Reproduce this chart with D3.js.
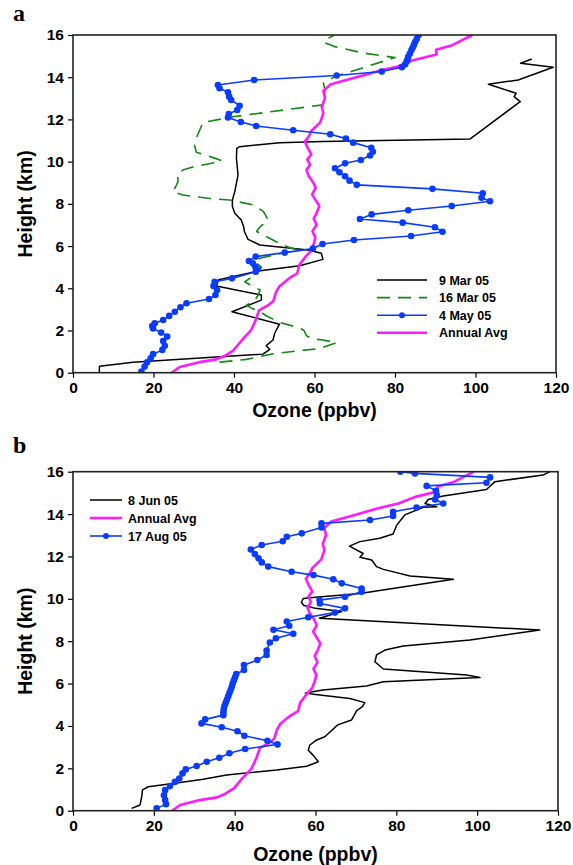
<!DOCTYPE html>
<html>
<head>
<meta charset="utf-8">
<script src="https://cdnjs.cloudflare.com/ajax/libs/d3/7.8.5/d3.min.js"></script>
<style>
    body { margin: 0; background: #fff; }
    text { font-family: 'Liberation Sans', Arial, sans-serif; font-weight: bold; fill: #000; }
    .tick text { font-size: 15.5px; }
    .axis-title { font-size: 19.5px; }
    .legend-text { font-size: 12.5px; }
    .panel-letter { font-family: 'Liberation Serif', 'Times New Roman', serif; font-size: 24px; }
</style>
</head>
<body>
<div id="chartContainer"></div>
<script>
// [ozone (ppbv), height (km)] pairs
const mar9Profile = [
    [6.5, 0], [6.6, 0.3], [14.9, 0.49], [47.2, 0.88], [48.9, 1.1], [48, 1.28], [49.7, 1.55], [50.1, 1.87],
    [51.3, 2.3], [39.5, 2.89], [46.8, 3.44], [46.8, 3.68], [35.6, 4.11], [36.2, 4.4], [46, 4.82], [56.3, 5.07],
    [62.1, 5.37], [61.7, 5.66], [58.4, 5.81], [46.4, 6.05], [43.5, 6.32], [42.6, 6.68], [42.4, 6.92], [41.8, 7.23],
    [40.2, 7.55], [39.6, 7.87], [39.6, 8.18], [40.2, 8.58], [41, 9.37], [40.6, 10.16], [40.7, 10.63], [41.4, 10.71],
    [51.3, 10.9], [62.1, 10.95], [98.6, 11.07], [111.1, 12.84], [109.6, 13.08], [110.1, 13.24], [103.2, 13.67],
    [110.6, 13.87], [119.3, 14.47], [111.2, 14.66], [114, 14.86]
];

const mar16Profile = [
    [36.4, 0.5], [43.1, 0.63], [49.8, 0.9], [61.4, 1.15], [65.5, 1.42], [62.1, 1.55], [59.6, 1.6], [58, 1.75],
    [57.4, 2.0], [56.4, 2.12], [51.3, 2.38], [48, 2.7], [46.4, 2.9], [44.4, 3.05], [43.1, 3.2], [45.2, 3.44],
    [46, 3.68], [46.5, 3.92], [44.5, 4.1], [42.7, 4.31], [44.5, 4.55], [46, 4.8], [46.8, 5.0], [45.1, 5.26],
    [46.4, 5.42], [51, 5.62], [56, 5.8], [53.5, 5.95], [51.3, 6.13], [48, 6.45], [45.6, 6.69], [46.5, 6.92],
    [48.5, 7.24], [47.3, 7.64], [44.8, 7.95], [38.9, 8.18], [34, 8.25], [27.3, 8.42], [24.8, 8.58], [25.5, 8.81],
    [26.1, 9.05], [26, 9.45], [27.5, 9.62], [30, 9.76], [34.4, 9.92], [36.9, 10.05], [34.8, 10.19], [30.6, 10.45],
    [30.2, 10.79], [30.6, 11.1], [31.5, 11.5], [32.3, 11.86], [36.9, 12.02], [39.8, 12.13], [62.1, 12.69],
    [62.2, 13.08], [62.6, 13.4], [62.2, 13.72], [65.1, 14.03], [80, 14.93], [72, 15.15], [65, 15.45],
    [62.3, 15.65], [63.5, 15.85], [65, 16]
];

const may4Profile = [
    [17, 0.05], [17.8, 0.29], [18.4, 0.49], [19.3, 0.68], [19.9, 0.88], [22.2, 1.08], [22.8, 1.28], [22.4, 1.5],
    [23.4, 1.71], [21.9, 1.9], [19.9, 2.1], [19.7, 2.21], [20.3, 2.34], [22.4, 2.5], [23.9, 2.69], [25.3, 2.89],
    [26.7, 3.1], [28.2, 3.29], [33.8, 3.49], [35.4, 3.68], [35.8, 3.92], [34.9, 4.11], [35.2, 4.31], [39.5, 4.47],
    [45.4, 4.78], [45.8, 4.9], [45.3, 5.02], [44.7, 5.18], [43.7, 5.29], [45.4, 5.5], [52.6, 5.69], [59.6, 5.88],
    [62, 6.1], [69.8, 6.29], [84, 6.48], [91.8, 6.68], [89.9, 6.89], [81.9, 7.11], [71.3, 7.28], [74.2, 7.5],
    [83.3, 7.7], [94.1, 7.9], [103.6, 8.12], [101.5, 8.29], [101.8, 8.5], [89.3, 8.71], [70.5, 8.9], [68.7, 9.1],
    [67.6, 9.31], [66.2, 9.5], [65.1, 9.69], [67.6, 9.92], [71.5, 10.08], [73.8, 10.29], [74.5, 10.47],
    [74.1, 10.66], [69.6, 10.9], [67.8, 11.09], [63.9, 11.3], [54.7, 11.49], [45.5, 11.69], [41.7, 11.88],
    [38.5, 12.09], [38.7, 12.26], [40.8, 12.45], [41.4, 12.65], [39.3, 12.92], [38.8, 13.08], [38.5, 13.29],
    [36.4, 13.48], [36, 13.63], [45, 13.87], [65.5, 14.08], [76.7, 14.27], [81.7, 14.47], [82.5, 14.6],
    [82.9, 14.74], [83.1, 14.85], [83.3, 14.97], [83.7, 15.12], [84.1, 15.29], [84.4, 15.41], [84.7, 15.53],
    [85, 15.67], [85.4, 15.81], [85.9, 16]
];

const annualAvgProfile = [
    [24.5, 0], [26.5, 0.27], [31.4, 0.5], [35.6, 0.63], [37.6, 0.79], [39.8, 1.05], [42, 1.55], [44.2, 2.0],
    [45.4, 2.5], [46.2, 2.95], [48.5, 3.2], [49.8, 3.4], [50.4, 3.8], [51.3, 4.1], [53.9, 4.5], [55.7, 4.7],
    [56.2, 5.1], [57.8, 5.5], [59.2, 5.8], [59.8, 6.1], [60.2, 6.4], [59.5, 6.7], [60.5, 7.0], [59.8, 7.3],
    [60.6, 7.6], [61.2, 7.9], [60.2, 8.2], [59.4, 8.45], [60.3, 8.75], [59.6, 9.05], [58.6, 9.3], [58, 9.6],
    [58.9, 9.85], [58.2, 10.1], [59.2, 10.35], [58.3, 10.65], [57.6, 10.95], [58.6, 11.2], [59.2, 11.45],
    [61.4, 11.85], [62.2, 12.3], [61.8, 12.6], [62.6, 13.0], [62.2, 13.35], [63.9, 13.65], [69.5, 13.95],
    [76, 14.3], [80.5, 14.5], [84.5, 14.8], [90.3, 15.08], [90.2, 15.3], [94, 15.5], [99.2, 16]
];

const jun8Profile = [
    [14.5, 0.11], [16.6, 0.27], [17, 0.66], [17.2, 0.98], [18.6, 1.13], [25.2, 1.29], [32.2, 1.48], [38, 1.68],
    [50.4, 1.92], [57.8, 2.1], [60.7, 2.31], [59.5, 2.6], [58.2, 2.85], [58.6, 3.1], [60.3, 3.34], [62.3, 3.49],
    [65.5, 4.05], [68.9, 4.28], [70.2, 4.72], [71.6, 4.91], [72.2, 5.1], [68.5, 5.3], [59.5, 5.5], [57.5, 5.55],
    [61.8, 5.7], [72.6, 5.89], [76.8, 6.09], [100.7, 6.29], [97.4, 6.4], [76.8, 6.69], [74.7, 7.03], [75.1, 7.35],
    [77.2, 7.58], [81.7, 7.77], [98.2, 8.06], [115.5, 8.53], [61, 9.08], [66.5, 9.4], [60, 9.55], [57, 9.7],
    [56.5, 9.85], [57, 10.02], [60, 10.07], [71, 10.25], [94.1, 10.92], [83.4, 11.08], [76.8, 11.39],
    [75.1, 11.52], [73.9, 11.83], [71, 11.96], [71.8, 12.14], [68.4, 12.49], [71, 12.7], [75.9, 12.86],
    [79.2, 13.06], [80.1, 13.48], [82.1, 13.96], [86.7, 14.32], [90, 14.35], [87.1, 14.5], [87.9, 14.69],
    [91.6, 14.85], [102.3, 15.16], [104.4, 15.53], [116.3, 15.84], [118, 16]
];

const aug17Profile = [
    [20.7, 0.11], [23, 0.31], [22.8, 0.5], [22.5, 0.73], [22.8, 0.97], [24, 1.16], [25.2, 1.36], [26.3, 1.52],
    [27.1, 1.76], [27.9, 1.95], [30.6, 2.11], [33.1, 2.31], [36.2, 2.5], [38.7, 2.71], [42.6, 2.91], [50.6, 3.13],
    [48.1, 3.3], [42.4, 3.54], [40.7, 3.75], [36.8, 3.94], [31.8, 4.12], [32.7, 4.31], [37.2, 4.51], [37.2, 4.65],
    [37.3, 4.8], [37.5, 4.95], [37.8, 5.1], [38.1, 5.25], [38.4, 5.4], [38.7, 5.55], [39, 5.7], [39.3, 5.85],
    [39.5, 6.0], [39.8, 6.15], [40.1, 6.3], [40.4, 6.45], [42.3, 6.64], [42.3, 6.88], [45.6, 7.11], [47.9, 7.35],
    [47.9, 7.56], [48.7, 7.94], [50.2, 8.14], [54.5, 8.35], [49.6, 8.54], [53.5, 8.73], [52.9, 8.93],
    [58.2, 9.13], [64.8, 9.35], [67.3, 9.55], [61.1, 9.78], [61, 9.94], [67.3, 10.1], [71.4, 10.33],
    [71.4, 10.49], [66.5, 10.73], [64.4, 10.92], [59.5, 11.12], [54.1, 11.28], [48.3, 11.52], [46.7, 11.72],
    [45.9, 11.91], [45, 12.11], [44, 12.33], [46.7, 12.54], [51.9, 12.72], [52.9, 12.93], [56.6, 13.09],
    [61.5, 13.37], [61.5, 13.56], [73.5, 13.72], [79.2, 13.91], [79.2, 14.11], [85, 14.31], [91.6, 14.5],
    [89.6, 14.69], [90, 14.9], [89.8, 15.1], [87.5, 15.33], [102.3, 15.48], [103.2, 15.73], [84.6, 15.92],
    [81, 16]
];

const ozoneTicks = [0, 20, 40, 60, 80, 100, 120];
const heightTicks = [0, 2, 4, 6, 8, 10, 12, 14, 16];

const styles = {
    black: { color: '#000000', width: 1.5, dash: null, dots: false },
    green: { color: '#118a11', width: 1.6, dash: '13,8', dots: false },
    blue: { color: '#0a3cff', width: 1.6, dash: null, dots: true },
    magenta: { color: '#ff1aff', width: 2.6, dash: null, dots: false },
};

const panels = [
    {
        letter: 'a', letterY: 21, titleDy: 44,
        left: 73, top: 35, right: 556, bottom: 372.7,
        series: [
            { label: '9 Mar 05', data: mar9Profile, style: styles.black },
            { label: '16 Mar 05', data: mar16Profile, style: styles.green },
            { label: 'Annual Avg', data: annualAvgProfile, style: styles.magenta },
            { label: '4 May 05', data: may4Profile, style: styles.blue },
        ],
        legendOrder: ['9 Mar 05', '16 Mar 05', '4 May 05', 'Annual Avg'],
        legend: { x1: 377, x2: 427, tx: 439, y: 280, dy: 17.6 },
    },
    {
        letter: 'b', letterY: 453, titleDy: 50,
        left: 73, top: 471.7, right: 558, bottom: 810.7,
        series: [
            { label: '8 Jun 05', data: jun8Profile, style: styles.black },
            { label: 'Annual Avg', data: annualAvgProfile, style: styles.magenta },
            { label: '17 Aug 05', data: aug17Profile, style: styles.blue },
        ],
        legendOrder: ['8 Jun 05', 'Annual Avg', '17 Aug 05'],
        legend: { x1: 90, x2: 122, tx: 128, y: 500, dy: 18 },
    },
];

const svg = d3.select('#chartContainer').append('svg').attr('width', 573).attr('height', 865);

panels.forEach((p, i) => {
    const w = p.right - p.left;
    const h = p.bottom - p.top;
    const xScale = d3.scaleLinear().domain([0, 120]).range([0, w]);
    const yScale = d3.scaleLinear().domain([0, 16]).range([h, 0]);

    svg.append('text')
        .attr('class', 'panel-letter')
        .attr('x', 13)
        .attr('y', p.letterY)
        .text(p.letter);

    const chart = svg.append('g').attr('transform', `translate(${p.left}, ${p.top})`);

    chart.append('clipPath')
        .attr('id', `clip${i}`)
        .append('rect')
        .attr('width', w)
        .attr('height', h);

    const plot = chart.append('g').attr('clip-path', `url(#clip${i})`);

    const line = d3.line()
        .x((d) => xScale(d[0]))
        .y((d) => yScale(d[1]));

    p.series.forEach((s) => {
        plot.append('path')
            .datum(s.data)
            .attr('fill', 'none')
            .attr('stroke', s.style.color)
            .attr('stroke-width', s.style.width)
            .attr('stroke-dasharray', s.style.dash)
            .attr('stroke-linejoin', 'round')
            .attr('d', line);

        if (s.style.dots) {
            plot.selectAll(null)
                .data(s.data)
                .enter()
                .append('circle')
                .attr('cx', (d) => xScale(d[0]))
                .attr('cy', (d) => yScale(d[1]))
                .attr('r', 3.3)
                .attr('fill', s.style.color);
        }
    });

    const xAxis = d3.axisBottom(xScale).tickValues(ozoneTicks).tickSize(5).tickSizeOuter(0).tickPadding(4);
    chart.append('g')
        .attr('class', 'x-axis')
        .attr('transform', `translate(0, ${h})`)
        .call(xAxis);

    const yAxis = d3.axisLeft(yScale).tickValues(heightTicks).tickSize(5).tickSizeOuter(0).tickPadding(4);
    chart.append('g')
        .attr('class', 'y-axis')
        .call(yAxis);

    chart.selectAll('.domain').remove();
    chart.selectAll('.tick line').attr('stroke', '#000').attr('stroke-width', 1.2);

    chart.append('rect')
        .attr('width', w)
        .attr('height', h)
        .attr('fill', 'none')
        .attr('stroke', '#222')
        .attr('stroke-width', 1.6);

    chart.append('text')
        .attr('class', 'axis-title')
        .attr('x', w / 2)
        .attr('y', h + p.titleDy)
        .attr('text-anchor', 'middle')
        .text('Ozone (ppbv)');

    chart.append('text')
        .attr('class', 'axis-title')
        .attr('x', -h / 2)
        .attr('y', -p.left + 32)
        .attr('text-anchor', 'middle')
        .attr('transform', 'rotate(-90)')
        .text('Height (km)');

    // legend
    const lg = p.legend;
    p.legendOrder.forEach((label, k) => {
        const s = p.series.find((d) => d.label === label);
        const y = lg.y + k * lg.dy;
        svg.append('line')
            .attr('x1', lg.x1)
            .attr('x2', lg.x2)
            .attr('y1', y)
            .attr('y2', y)
            .attr('stroke', s.style.color)
            .attr('stroke-width', s.style.width)
            .attr('stroke-dasharray', s.style.dash);
        if (s.style.dots) {
            svg.append('circle')
                .attr('cx', (lg.x1 + lg.x2) / 2)
                .attr('cy', y)
                .attr('r', 3)
                .attr('fill', s.style.color);
        }
        svg.append('text')
            .attr('class', 'legend-text')
            .attr('x', lg.tx)
            .attr('y', y + 4.5)
            .text(label);
    });
});
</script>
</body>
</html>
